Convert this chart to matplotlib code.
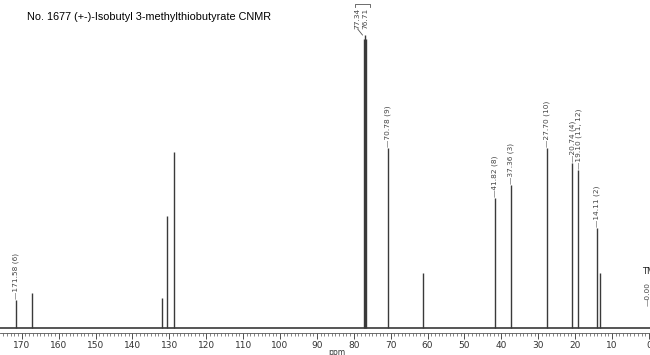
import numpy as np
from matplotlib import pyplot as plt
from matplotlib.ticker import MultipleLocator

# 13C NMR peaks (ppm) and peak heights (arbitrary units)
peak_ppm = [171.58, 167.2, 132.0, 130.6, 128.7, 77.34, 77.02, 76.71,
            70.78, 61.2, 41.82, 37.36, 27.70, 20.74, 19.10, 14.11, 13.3]
peak_height = [28, 35, 30, 112, 176, 289, 293, 289,
               180, 55, 130, 143, 180, 165, 158, 100, 55]

# labelled peaks
label_ppm = [171.58, 70.78, 41.82, 37.36, 27.70, 20.74, 19.10, 14.11]
label_text = ['171.58 (6)', '70.78 (9)', '41.82 (8)', '37.36 (3)',
              '27.70 (10)', '20.74 (4)', '19.10 (11, 12)', '14.11 (2)']
label_height = [28, 180, 130, 143, 180, 165, 158, 100]

solvent_ppm = [77.34, 76.71]
solvent_text = ['77.34', '76.71']

base = 5
grey = '#3a3a3a'

fig = plt.figure(figsize=(6.5, 3.55), dpi=100)
ax = fig.add_axes([0, 22/355, 1, 333/355])

# baseline + peaks
ax.axhline(base, color='#555555', lw=1.4, zorder=1)
ax.vlines(peak_ppm, base, base + np.array(peak_height), color=grey, lw=1.0, zorder=2)

for x, t, h in zip(label_ppm, label_text, label_height):
    ax.text(x, base + h + 1, '\u2014' + t, rotation=90, ha='center', va='bottom',
            fontsize=5.3, color='#444444')

# solvent triplet labels with bracket
top = base + max(peak_height)
ax.text(solvent_ppm[0] + 1.6, top + 6, solvent_text[0], rotation=90, ha='center', va='bottom',
        fontsize=5.3, color='#444444')
ax.text(solvent_ppm[1] + 0.1, top + 6, solvent_text[1], rotation=90, ha='center', va='bottom',
        fontsize=5.3, color='#444444')
ax.plot([solvent_ppm[0] + 1.6, solvent_ppm[0] + 0.3], [top + 6, top], color='#555555', lw=0.6)
ax.plot([79.8, 79.8, 75.6, 75.6], [top + 28, top + 31, top + 31, top + 28], color='#555555', lw=0.6)

# TMS (cut at right edge)
ax.text(1.9, base + 52, 'TMS', fontsize=6, color='#222222', ha='left', va='bottom')
ax.text(0.4, base + 22, '\u20140.00', rotation=90, fontsize=5.3, color='#444444',
        ha='center', va='bottom')

ax.text(84.5, -15, 'ppm', fontsize=5.5, ha='center', va='top', color='#333333',
        clip_on=False)

ax.set_xlim(175.9, -0.3)
ax.set_ylim(0, 333)
ax.xaxis.set_major_locator(MultipleLocator(10))
ax.xaxis.set_minor_locator(MultipleLocator(1))
ax.tick_params(axis='x', which='major', length=4, width=0.6, labelsize=6.5,
               colors='#333333', pad=2)
ax.tick_params(axis='x', which='minor', length=2.5, width=0.5, colors='#555555')
ax.set_yticks([])
for s in ['top', 'left', 'right']:
    ax.spines[s].set_visible(False)
ax.spines['bottom'].set_linewidth(0.6)
ax.spines['bottom'].set_color('#555555')

fig.text(27/650, 1 - 17/355, 'No. 1677 (+-)-Isobutyl 3-methylthiobutyrate CNMR',
         fontsize=7.8, family=['Liberation Sans', 'DejaVu Sans'], ha='left', va='center')

plt.savefig('out.png', dpi=100)
